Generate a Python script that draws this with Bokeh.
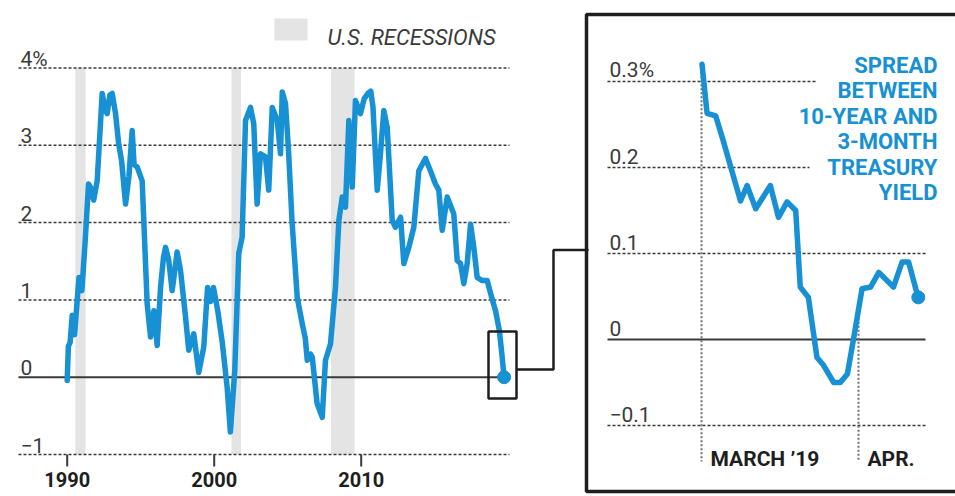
import numpy as np
from bokeh.plotting import figure
from bokeh.models import Range1d
from bokeh.core.properties import value
from bokeh.embed import file_html
from bokeh.resources import INLINE

# ---------------- data: main chart (spread between 10-year and 3-month Treasury yield, %)
years = [1990.00, 1990.08, 1990.20, 1990.34, 1990.50, 1990.80, 1991.00, 1991.24, 1991.45, 1991.60,
         1991.80, 1992.04, 1992.38, 1992.60, 1992.72, 1992.90, 1993.06, 1993.29, 1993.50, 1993.70,
         1993.97, 1994.20, 1994.42, 1994.55, 1994.76, 1995.10, 1995.44, 1995.67, 1995.90, 1996.12,
         1996.35, 1996.55, 1996.69, 1996.91, 1997.14, 1997.48, 1997.71, 1998.05, 1998.27, 1998.61,
         1998.95, 1999.29, 1999.55, 1999.75, 1999.95, 2000.25, 2000.55, 2000.88, 2001.10, 2001.40,
         2001.67, 2001.90, 2002.13, 2002.47, 2002.69, 2002.92, 2003.15, 2003.49, 2003.71, 2003.95,
         2004.29, 2004.51, 2004.63, 2004.85, 2005.05, 2005.30, 2005.50, 2005.65, 2005.99, 2006.20,
         2006.33, 2006.55, 2006.67, 2007.00, 2007.35, 2007.57, 2007.91, 2008.25, 2008.48, 2008.71,
         2008.93, 2009.16, 2009.39, 2009.61, 2009.95, 2010.20, 2010.45, 2010.65, 2010.80, 2011.09,
         2011.31, 2011.54, 2011.77, 2012.11, 2012.33, 2012.68, 2012.90, 2013.24, 2013.58, 2013.92,
         2014.37, 2014.71, 2015.05, 2015.28, 2015.51, 2015.85, 2016.30, 2016.53, 2016.76, 2016.98,
         2017.21, 2017.44, 2017.66, 2017.89, 2018.23, 2018.57, 2018.85, 2019.15, 2019.40, 2019.58,
         2019.72]
spread = [-0.04, 0.40, 0.45, 0.80, 0.55, 1.29, 1.12, 1.81, 2.50, 2.45,
          2.29, 2.54, 3.67, 3.45, 3.41, 3.65, 3.67, 3.41, 3.02, 2.80,
          2.24, 2.60, 3.19, 2.75, 2.72, 2.54, 0.95, 0.52, 0.86, 0.41,
          1.16, 1.55, 1.68, 1.51, 1.12, 1.62, 1.38, 0.78, 0.35, 0.56,
          0.06, 0.39, 1.16, 0.98, 1.16, 0.85, 0.45, -0.13, -0.71, 0.09,
          1.60, 1.81, 3.32, 3.49, 3.28, 2.24, 2.89, 2.85, 2.42, 3.49,
          3.32, 2.89, 3.69, 3.54, 2.95, 2.00, 1.45, 1.03, 0.69, 0.50,
          0.22, 0.30, 0.26, -0.34, -0.52, 0.22, 0.43, 1.16, 2.03, 2.33,
          2.20, 3.32, 2.46, 3.58, 3.41, 3.60, 3.67, 3.70, 3.50, 2.42,
          2.89, 3.45, 3.23, 2.03, 1.94, 2.07, 1.47, 1.68, 1.94, 2.67,
          2.83, 2.67, 2.50, 2.42, 1.90, 2.33, 2.11, 1.51, 1.47, 1.21,
          1.47, 1.98, 1.68, 1.29, 1.25, 1.25, 1.05, 0.85, 0.60, 0.28,
          0.00]
recession_start = [1990.55, 2001.17, 2007.95]
recession_end = [1991.25, 2001.83, 2009.55]
y_ticks = [4, 3, 2, 1, 0, -1]
y_tick_labels = ["4%", "3", "2", "1", "0", "\u22121"]
x_ticks = [1990, 2000, 2010]
x_tick_labels = ["1990", "2000", "2010"]
legend_label = "U.S. RECESSIONS"

# ---------------- data: inset (days since 1 March 2019)
inset_day = [0.1, 1.1, 2.8, 4.3, 7.7, 9.0, 10.7, 13.6, 15.2, 16.9, 18.6, 19.5, 21.1, 22.8,
             24.1, 26.1, 27.4, 28.8, 30.0, 31.7, 33.4, 35.0, 37.9, 39.6, 40.9, 42.3, 42.8]
inset_spread = [0.320, 0.263, 0.260, 0.231, 0.161, 0.179, 0.152, 0.179, 0.142, 0.160, 0.150,
                0.061, 0.049, -0.021, -0.030, -0.050, -0.050, -0.040, 0.000, 0.059, 0.061,
                0.078, 0.061, 0.090, 0.090, 0.059, 0.049]
inset_y_ticks = [0.3, 0.2, 0.1, 0, -0.1]
inset_y_tick_labels = ["0.3%", "0.2", "0.1", "0", "\u22120.1"]
inset_x_ticks = [0, 31]
inset_x_tick_labels = ["MARCH \u201919", "APR."]
inset_title = "SPREAD\nBETWEEN\n10-YEAR AND\n3-MONTH\nTREASURY\nYIELD"

# ---------------- layout (picture pixels) and styles
W, H, OFF = 955, 496, 0
MX0, MXS, MY0, MYS = 66.7, 14.7, 376.7, 77.3     # main scale anchors
IX0, IXS, IY0, IYS = 701.0, 5.065, 339.0, 860.0  # inset scale anchors

def mx(X): return 1990 + (X - MX0) / MXS
def my(Y): return (MY0 - Y) / MYS
def ix(X): return (X - IX0) / IXS
def iy(Y): return (IY0 - Y) / IYS

BLUE = "#1790d4"
BAND = "#e4e4e4"
GRID = "#3a3a3a"
TXT = "#3a3a3a"
DARK = "#1e1e1e"
FONT = value("Roboto")

p = figure(width=W, height=H, title=None, output_backend="svg", toolbar_location=None,
           x_range=Range1d(mx(OFF), mx(OFF + W)), y_range=Range1d(my(OFF + H), my(OFF)),
           x_axis_type=None, y_axis_type=None, min_border=0)
p.extra_x_ranges = {"ix": Range1d(ix(OFF), ix(OFF + W))}
p.extra_y_ranges = {"iy": Range1d(iy(OFF + H), iy(OFF))}
p.outline_line_color = None
p.background_fill_color = "white"
p.border_fill_color = "white"

# ---------------- main chart
gtop, gbot = max(y_ticks), min(y_ticks)
p.quad(left=recession_start, right=recession_end, bottom=gbot, top=gtop,
       fill_color=BAND, line_color=None)
dotted = [t for t in y_ticks if t != 0]
p.segment(x0=[mx(18)] * len(dotted), x1=[mx(509)] * len(dotted), y0=dotted, y1=dotted,
          line_color=GRID, line_width=1.5, line_dash="3 2")
p.segment(x0=[mx(18)], x1=[years[-1]], y0=[0], y1=[0], line_color=GRID, line_width=2)
p.text(x=[mx(20)] * len(y_ticks), y=[t + 9.5 / MYS for t in y_ticks], text=y_tick_labels,
       text_font=FONT, text_font_size="21px", text_color=TXT,
       text_align="left", text_baseline="alphabetic")
p.segment(x0=x_ticks, x1=x_ticks, y0=[gbot] * 3, y1=[gbot - 12 / MYS] * 3,
          line_color=GRID, line_width=2)
p.text(x=x_ticks, y=[my(471)] * 3, text=x_tick_labels, text_font=FONT,
       text_font_size="20px", text_font_style="bold", text_color=DARK,
       text_align="center", text_baseline="top")
p.line(years, spread, line_color=BLUE, line_width=5.5, line_join="round", line_cap="round")
p.scatter([years[-1]], [spread[-1]], size=13, color=BLUE)

# legend
p.quad(left=[mx(274)], right=[mx(307)], top=[my(18)], bottom=[my(40)],
       fill_color=BAND, line_color=None)
p.text(x=[mx(327)], y=[my(37)], text=[legend_label], text_font=FONT, text_font_size="22px",
       text_font_style="italic", text_color=TXT, text_align="left", text_baseline="alphabetic")

# zoom box + connector
p.quad(left=[mx(488)], right=[mx(516)], top=[my(331)], bottom=[my(398)],
       fill_color=None, line_color=DARK, line_width=2.5)
p.line(x=[mx(516), mx(553), mx(553), mx(588)], y=[my(369), my(369), my(249.5), my(249.5)],
       line_color=DARK, line_width=2.5)
# panel frame
p.line(x=[mx(990), mx(586), mx(586), mx(990)], y=[my(14), my(14), my(491), my(491)],
       line_color=DARK, line_width=3.5)

# ---------------- inset
R = dict(x_range_name="ix", y_range_name="iy")
short = [t for t in inset_y_ticks if t > 0.15]
longg = [t for t in inset_y_ticks if t <= 0.15 and t != 0]
p.segment(x0=[ix(607)] * len(short), x1=[ix(815), ix(809)], y0=short, y1=short,
          line_color=GRID, line_width=1.5, line_dash="3 2", **R)
p.segment(x0=[ix(607)] * len(longg), x1=[ix(925)] * len(longg), y0=longg, y1=longg,
          line_color=GRID, line_width=1.5, line_dash="3 2", **R)
p.segment(x0=[ix(607)], x1=[ix(925)], y0=[0], y1=[0], line_color=GRID, line_width=2, **R)
vtop = [float(np.interp(d, inset_day, inset_spread)) for d in inset_x_ticks]
p.segment(x0=inset_x_ticks, x1=inset_x_ticks, y0=vtop, y1=[iy(461)] * 2,
          line_color="#707070", line_width=2, line_dash="2 2", **R)
p.text(x=[ix(609)] * len(inset_y_ticks), y=[t + 11.5 / IYS for t in inset_y_ticks],
       text=inset_y_tick_labels, text_font=FONT, text_font_size="21px", text_color=TXT,
       text_align="left", text_baseline="alphabetic", **R)
p.text(x=[d + 9 / IXS for d in inset_x_ticks], y=[iy(458)] * 2, text=inset_x_tick_labels,
       text_font=FONT, text_font_size="21px", text_font_style="bold", text_color=DARK,
       text_align="left", text_baseline="alphabetic", **R)
p.line(inset_day, inset_spread, line_color=BLUE, line_width=5.5, line_join="round",
       line_cap="round", **R)
p.scatter([inset_day[-1]], [inset_spread[-1]], size=13, color=BLUE, **R)
p.text(x=[ix(937)], y=[iy(52)], text=[inset_title], text_font=FONT, text_font_size="22px",
       text_font_style="bold", text_color=BLUE, text_align="right", text_baseline="top",
       text_line_height=1.02, **R)

open("out.html", "w").write(file_html(p, INLINE))
